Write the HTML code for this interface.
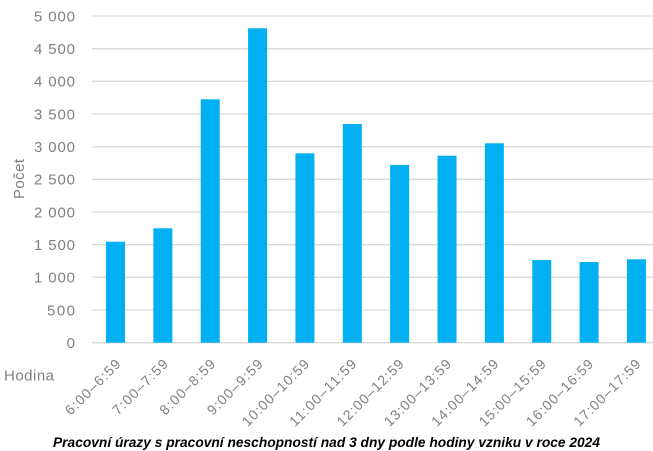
<!DOCTYPE html>
<html><head><meta charset="utf-8"><style>
html,body{margin:0;padding:0;background:#fff;}
svg{display:block;}
text{font-family:"Liberation Sans",sans-serif;}
</style></head><body>
<svg width="653" height="451" viewBox="0 0 653 451" xmlns="http://www.w3.org/2000/svg">
<g stroke="#d9d9d9" stroke-width="1.3">
<line x1="92" y1="16" x2="653" y2="16"/>
<line x1="92" y1="48.67" x2="653" y2="48.67"/>
<line x1="92" y1="81.33" x2="653" y2="81.33"/>
<line x1="92" y1="114" x2="653" y2="114"/>
<line x1="92" y1="146.67" x2="653" y2="146.67"/>
<line x1="92" y1="179.33" x2="653" y2="179.33"/>
<line x1="92" y1="212" x2="653" y2="212"/>
<line x1="92" y1="244.67" x2="653" y2="244.67"/>
<line x1="92" y1="277.33" x2="653" y2="277.33"/>
<line x1="92" y1="310" x2="653" y2="310"/>
<line x1="92" y1="342.67" x2="653" y2="342.67"/>
</g>
<g fill="#00b0f0">
<rect x="106" y="241.7" width="19" height="101"/>
<rect x="153.36" y="228.3" width="19" height="114.4"/>
<rect x="200.72" y="99.3" width="19" height="243.4"/>
<rect x="248.08" y="28.3" width="19" height="314.4"/>
<rect x="295.44" y="153.3" width="19" height="189.4"/>
<rect x="342.8" y="124" width="19" height="218.7"/>
<rect x="390.16" y="165" width="19" height="177.7"/>
<rect x="437.52" y="155.7" width="19" height="187"/>
<rect x="484.88" y="143.3" width="19" height="199.4"/>
<rect x="532.24" y="260" width="19" height="82.7"/>
<rect x="579.6" y="262" width="19" height="80.7"/>
<rect x="626.96" y="259.3" width="19" height="83.4"/>
</g>
<g fill="#808080" font-size="15" text-anchor="end">
<text x="75" y="21.3" textLength="41" lengthAdjust="spacing">5 000</text>
<text x="75" y="54" textLength="41" lengthAdjust="spacing">4 500</text>
<text x="75" y="86.6" textLength="41" lengthAdjust="spacing">4 000</text>
<text x="75" y="119.3" textLength="41" lengthAdjust="spacing">3 500</text>
<text x="75" y="152" textLength="41" lengthAdjust="spacing">3 000</text>
<text x="75" y="184.6" textLength="41" lengthAdjust="spacing">2 500</text>
<text x="75" y="217.3" textLength="41" lengthAdjust="spacing">2 000</text>
<text x="75" y="250" textLength="41" lengthAdjust="spacing">1 500</text>
<text x="75" y="282.6" textLength="41" lengthAdjust="spacing">1 000</text>
<text x="75" y="315.3" textLength="28" lengthAdjust="spacing">500</text>
<text x="75" y="348" >0</text>
</g>
<text x="24" y="179" fill="#808080" font-size="15" text-anchor="middle" transform="rotate(-90 24 179)" textLength="40" lengthAdjust="spacing">Počet</text>
<text x="4" y="380.5" fill="#808080" font-size="15" textLength="50" lengthAdjust="spacing">Hodina</text>
<g fill="#808080" font-size="14" text-anchor="end">
<text transform="translate(121.5 365) rotate(-45)" textLength="72" lengthAdjust="spacing">6:00–6:59</text>
<text transform="translate(168.9 365) rotate(-45)" textLength="72" lengthAdjust="spacing">7:00–7:59</text>
<text transform="translate(216.2 365) rotate(-45)" textLength="72" lengthAdjust="spacing">8:00–8:59</text>
<text transform="translate(263.6 365) rotate(-45)" textLength="72" lengthAdjust="spacing">9:00–9:59</text>
<text transform="translate(310 365) rotate(-45)" textLength="88" lengthAdjust="spacing">10:00–10:59</text>
<text transform="translate(357.3 365) rotate(-45)" textLength="88" lengthAdjust="spacing">11:00–11:59</text>
<text transform="translate(404.7 365) rotate(-45)" textLength="88" lengthAdjust="spacing">12:00–12:59</text>
<text transform="translate(452 365) rotate(-45)" textLength="88" lengthAdjust="spacing">13:00–13:59</text>
<text transform="translate(499.4 365) rotate(-45)" textLength="88" lengthAdjust="spacing">14:00–14:59</text>
<text transform="translate(546.8 365) rotate(-45)" textLength="88" lengthAdjust="spacing">15:00–15:59</text>
<text transform="translate(594.1 365) rotate(-45)" textLength="88" lengthAdjust="spacing">16:00–16:59</text>
<text transform="translate(641.5 365) rotate(-45)" textLength="88" lengthAdjust="spacing">17:00–17:59</text>
</g>
<text x="53" y="447" fill="#000" font-size="13.5" font-weight="bold" font-style="italic" textLength="547" lengthAdjust="spacingAndGlyphs">Pracovní úrazy s pracovní neschopností nad 3 dny podle hodiny vzniku v roce 2024</text>
</svg>
</body></html>
